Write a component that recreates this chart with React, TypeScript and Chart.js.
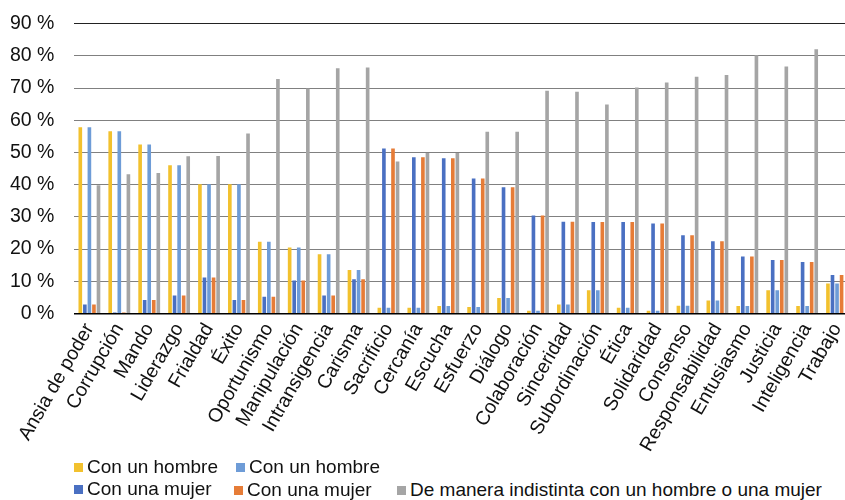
import React, { useEffect, useRef } from "react";
import { Chart, registerables } from "chart.js";

Chart.register(...registerables);

const categories = [
  "Ansia de poder", "Corrupción", "Mando", "Liderazgo", "Frialdad", "Éxito",
  "Oportunismo", "Manipulación", "Intransigencia", "Carisma", "Sacrificio",
  "Cercanía", "Escucha", "Esfuerzo", "Diálogo", "Colaboración", "Sinceridad",
  "Subordinación", "Ética", "Solidaridad", "Consenso", "Responsabilidad",
  "Entusiasmo", "Justicia", "Inteligencia", "Trabajo",
];

const hombreA = [57.8, 56.6, 52.5, 46.0, 40.1, 40.1, 22.3, 20.5, 18.4, 13.5, 1.8, 1.8, 2.3, 2.0, 4.8, 0.8, 2.8, 7.2, 1.8, 0.8, 2.4, 4.0, 2.3, 7.2, 2.3, 9.3];
const hombreB = [57.8, 56.6, 52.5, 46.0, 40.1, 40.1, 22.3, 20.5, 18.4, 13.5, 1.8, 1.8, 2.3, 2.0, 4.8, 0.8, 2.8, 7.2, 1.8, 0.8, 2.4, 4.0, 2.3, 7.2, 2.3, 9.3];
const mujerA = [2.8, 0.3, 4.2, 5.6, 11.2, 4.2, 5.2, 10.2, 5.6, 10.6, 51.2, 48.5, 48.2, 41.9, 39.2, 30.4, 28.5, 28.4, 28.4, 27.9, 24.3, 22.4, 17.7, 16.6, 16.0, 11.9];
const mujerB = [2.8, 0.3, 4.2, 5.6, 11.2, 4.2, 5.2, 10.2, 5.6, 10.6, 51.2, 48.5, 48.2, 41.9, 39.2, 30.4, 28.5, 28.4, 28.4, 27.9, 24.3, 22.4, 17.7, 16.6, 16.0, 11.9];
const indistinta = [39.8, 43.2, 43.6, 48.8, 48.9, 55.9, 72.8, 69.9, 76.2, 76.4, 47.2, 49.8, 49.8, 56.4, 56.4, 69.2, 68.9, 64.9, 70.2, 71.7, 73.5, 74.1, 80.2, 76.7, 82.1, null];

const yTicks = [0, 10, 20, 30, 40, 50, 60, 70, 80, 90];

const seriesNames = ["Con un hombre", "Con una mujer", "Con un hombre", "Con una mujer", "De manera indistinta con un hombre o una mujer"];
const seriesColors = ["#F2C12E", "#4A70C2", "#6E9CD7", "#E67C37", "#A5A5A5"];

const FONT = "'Liberation Sans', Arial, Helvetica, sans-serif";

const legendItems = [
  { idx: 0, left: 74, top: 456 },
  { idx: 2, left: 236, top: 456 },
  { idx: 1, left: 74, top: 478 },
  { idx: 3, left: 234, top: 479 },
  { idx: 4, left: 397, top: 479 },
];

export default function App() {
  const ref = useRef<HTMLCanvasElement>(null);

  useEffect(() => {
    if (!ref.current) return;
    const seriesData = [hombreA, mujerA, hombreB, mujerB, indistinta];
    const chart = new Chart(ref.current, {
      type: "bar",
      data: {
        labels: categories,
        datasets: seriesData.map((d, i) => ({
          label: seriesNames[i],
          data: d,
          backgroundColor: seriesColors[i],
          categoryPercentage: 0.76,
          barPercentage: 0.8,
        })),
      },
      options: {
        responsive: false,
        animation: false,
        layout: { padding: { left: 0, top: 4, right: 18, bottom: 0 } },
        plugins: { legend: { display: false }, tooltip: { enabled: false } },
        scales: {
          x: {
            grid: { display: false, drawTicks: false },
            border: { color: "#000", width: 1.5 },
            ticks: {
              autoSkip: false,
              maxRotation: 60,
              minRotation: 60,
              padding: 6,
              color: "#111",
              font: { family: FONT, size: 19.5 },
            },
          },
          y: {
            min: 0,
            max: 90,
            afterBuildTicks: (axis: any) => {
              axis.ticks = yTicks.map((v) => ({ value: v }));
            },
            grid: {
              drawTicks: false,
              color: (ctx: any) => (ctx.tick && ctx.tick.value === 90 ? "#222" : "#808080"),
              lineWidth: 1,
            },
            border: { display: false },
            ticks: {
              padding: 20,
              color: "#111",
              font: { family: FONT, size: 19.5 },
              callback: (v: any) => `${v} %`,
            },
          },
        },
      },
    });
    return () => chart.destroy();
  }, []);

  return (
    <div style={{ position: "fixed", left: 0, top: 0, width: 845, height: 500, overflow: "hidden", background: "#fff", fontFamily: FONT }}>
      <canvas ref={ref} width={880} height={470} style={{ position: "absolute", left: -10, top: -8 }} />
      {legendItems.map((it, k) => (
        <div key={k} style={{ position: "absolute", left: it.left, top: it.top, display: "flex", alignItems: "center", whiteSpace: "nowrap", fontSize: 19, color: "#111", lineHeight: "22px" }}>
          <span style={{ display: "inline-block", width: 9, height: 9, background: seriesColors[it.idx], marginRight: 4 }} />
          <span>{seriesNames[it.idx]}</span>
        </div>
      ))}
    </div>
  );
}
